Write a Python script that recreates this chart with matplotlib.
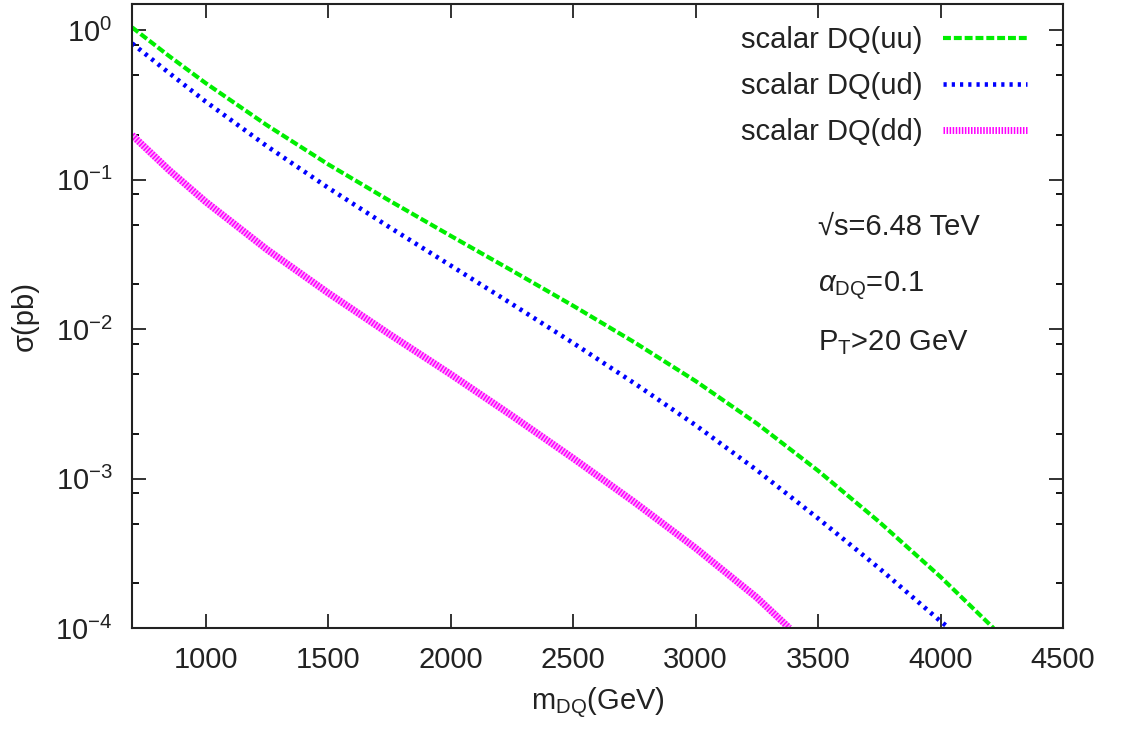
import numpy as np
import matplotlib
matplotlib.use("Agg")
import matplotlib.pyplot as plt
from matplotlib.ticker import FixedLocator, FuncFormatter, NullFormatter

plt.rcParams['font.family'] = ['Liberation Sans', 'DejaVu Sans']
plt.rcParams['mathtext.fontset'] = 'custom'
plt.rcParams['mathtext.rm'] = 'Liberation Sans'
plt.rcParams['mathtext.it'] = 'Liberation Sans:italic'
plt.rcParams['mathtext.bf'] = 'Liberation Sans:bold'

# Pair-production cross sections of scalar diquarks (pb) vs. mass (GeV)
mass_uu = [700, 850, 1000, 1250, 1500, 1750, 2000, 2250, 2500, 2750,
           3000, 3250, 3500, 3750, 4000, 4216]
sigma_uu = [1.047, 0.675, 0.444, 0.232, 0.127, 0.0726, 0.0422, 0.0247, 0.01436, 0.00818,
            0.00450, 0.00234, 0.00113, 0.000513, 0.000220, 0.0001]

mass_ud = [700, 850, 1000, 1250, 1500, 1750, 2000, 2250, 2500, 2750,
           3000, 3250, 3500, 3750, 4000, 4035]
sigma_ud = [0.818, 0.520, 0.334, 0.168, 0.0885, 0.0482, 0.0267, 0.01476, 0.00809, 0.00435,
            0.00228, 0.00114, 0.000542, 0.000251, 0.000111, 0.0001]

mass_dd = [700, 850, 1000, 1250, 1500, 1750, 2000, 2250, 2500, 2750,
           3000, 3250, 3383]
sigma_dd = [0.199, 0.1165, 0.0714, 0.0342, 0.0175, 0.00927, 0.0050, 0.00264, 0.00137, 0.000697,
            0.000343, 0.000160, 0.0001]

labels = ['scalar DQ(uu)', 'scalar DQ(ud)', 'scalar DQ(dd)']
x_ticks = [1000, 1500, 2000, 2500, 3000, 3500, 4000, 4500]
y_ticks = [1e-4, 1e-3, 1e-2, 1e-1, 1e0]

fig = plt.figure(figsize=(11.21, 7.32), dpi=100)
ax = fig.add_axes([0.1178, 0.142, 0.8305, 0.8525])

l1, = ax.plot(mass_uu, sigma_uu, color='#00ee00', lw=3.0,
              dashes=(1.9, 0.7), dash_capstyle='butt')
l2, = ax.plot(mass_ud, sigma_ud, color='#0000ff', lw=3.3,
              dashes=(0.7, 1.1), dash_capstyle='butt')
# dd curve: pale band under fine magenta stripes
ax.plot(mass_dd, sigma_dd, color='#ffaaff', lw=5.0, solid_capstyle='butt')
l3, = ax.plot(mass_dd, sigma_dd, color='#ff00ff', lw=5.0,
              dashes=(0.22, 0.22), dash_capstyle='butt')

ax.set_yscale('log')
ax.set_xlim(700, 4500)
ax.set_ylim(1e-4, 1.5)

ax.xaxis.set_major_locator(FixedLocator(x_ticks))
ax.yaxis.set_major_locator(FixedLocator(y_ticks))
minor = [m * 10.0 ** e for e in range(-4, 0) for m in (2, 5, 8)]
ax.yaxis.set_minor_locator(FixedLocator(minor))
ax.yaxis.set_minor_formatter(NullFormatter())
ax.yaxis.set_major_formatter(FuncFormatter(
    lambda v, p: r'10$^{%d}$' % int(round(np.log10(v)))))

ax.tick_params(axis='both', which='major', direction='in', length=10, width=1.3,
               top=True, right=True, labelsize=21, colors='#222222')
ax.tick_params(axis='x', which='major', pad=13)
ax.tick_params(axis='y', which='major', pad=14)
ax.tick_params(axis='y', which='minor', direction='in', length=5, width=1.3,
               left=True, right=True)
for s in ax.spines.values():
    s.set_linewidth(1.5)
    s.set_color('#222222')

ax.set_xlabel(r'm$_{\rm DQ}$(GeV)', fontsize=21, color='#222222', labelpad=8)
ax.set_ylabel(u'\u03c3(pb)', fontsize=21, color='#222222', labelpad=12)

leg = ax.legend([l1, l2, l3], labels, loc='upper right', frameon=False,
                fontsize=21, markerfirst=False, handlelength=2.9,
                handletextpad=0.7, labelspacing=0.62,
                bbox_to_anchor=(0.985, 1.0), borderaxespad=0.35)
for t in leg.get_texts():
    t.set_color('#222222')

txt = dict(transform=ax.transAxes, fontsize=21, color='#222222', ha='left', va='baseline')
ax.text(0.737, 0.630, u'\u221as=6.48 TeV', **txt)
ax.text(0.737, 0.5385, r'$\alpha_{\rm DQ}$=0.1', **txt)
ax.text(0.737, 0.4455, r'P$_{\rm T}$>20 GeV', **txt)

fig.savefig('out.png', dpi=100)
